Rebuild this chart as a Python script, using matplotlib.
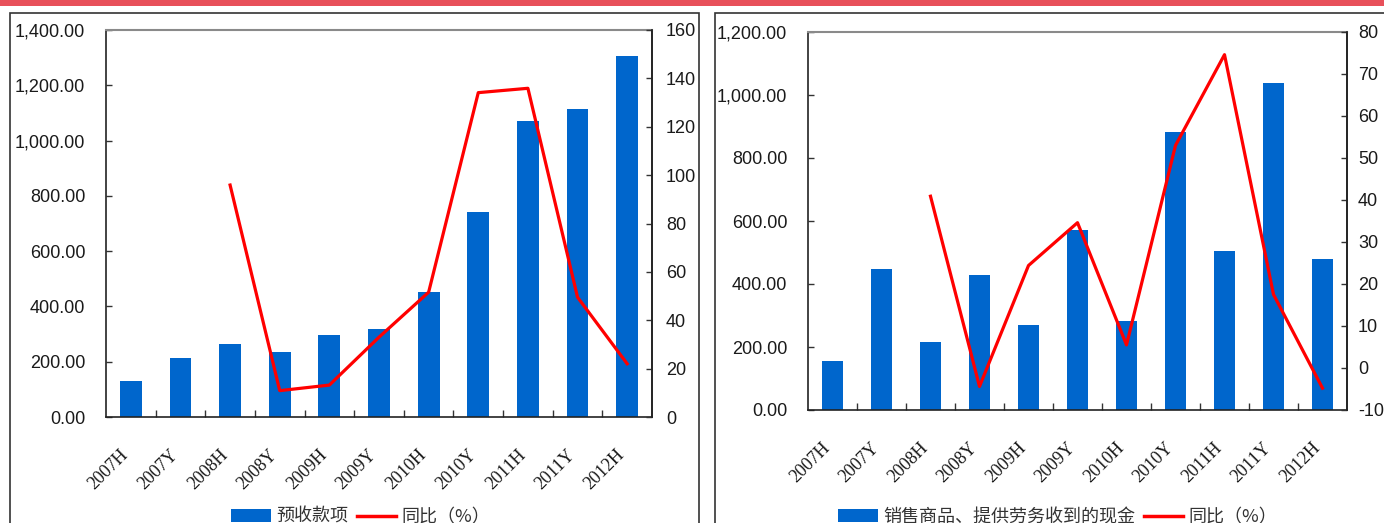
import numpy as np
import matplotlib
matplotlib.use("Agg")
import matplotlib.pyplot as plt
from matplotlib.patches import Rectangle, Patch
from matplotlib.lines import Line2D
from matplotlib.ticker import FuncFormatter, FixedLocator
import matplotlib.transforms as mtransforms

# ---- data ----
periods = ["2007H", "2007Y", "2008H", "2008Y", "2009H", "2009Y",
           "2010H", "2010Y", "2011H", "2011Y", "2012H"]

advance_receipts = [131, 214, 265, 236, 297, 319, 452, 741, 1071, 1113, 1306]
advance_yoy = [np.nan, np.nan, 95.9, 10.9, 13.2, 33.0, 51.6, 134.1, 135.9, 49.5, 22.0]

sales_cash = [154, 447, 217, 427, 269, 573, 284, 881, 506, 1038, 478]
sales_cash_yoy = [np.nan, np.nan, 40.9, -4.4, 24.4, 34.6, 5.5, 53.0, 74.6, 17.5, -4.8]

bar_label_left = "预收款项"
bar_label_right = "销售商品、提供劳务收到的现金"
line_label = "同比（%）"

# ---- style ----
W, H = 1384, 523
BLUE = "#0066CC"
RED = "#FF0000"
TXT = "#1a1a1a"
CJK = ["Noto Sans CJK SC", "DejaVu Sans"]
NUM = ["Liberation Sans", "DejaVu Sans"]
XLAB = ["Liberation Serif", "DejaVu Serif"]

fig = plt.figure(figsize=(W / 100, H / 100), dpi=100)
fig.patch.set_facecolor("white")

# red band across the top
fig.patches.append(Rectangle((0, 1 - 6 / H), 1, 6 / H, transform=fig.transFigure,
                             facecolor="#E8505A", edgecolor="none", zorder=0))
# panel frames
for x0, x1 in [(10, 699), (715, 1420)]:
    fig.patches.append(Rectangle((x0 / W, -0.05), (x1 - x0) / W, 1 - 13 / H + 0.05,
                                 transform=fig.transFigure, facecolor="none",
                                 edgecolor="#333333", linewidth=1.2, zorder=1))


def px_axes(x0, y0, x1, y1):
    return fig.add_axes([x0 / W, 1 - y1 / H, (x1 - x0) / W, (y1 - y0) / H])


def build(ax, bars, yoy, ylim, ystep, y2lim, y2step, bar_label, legend_cx, pad2):
    x = np.arange(len(periods))
    ax.bar(x, bars, width=0.44, color=BLUE, zorder=2)
    ax.set_xlim(-0.5, len(periods) - 0.5)
    ax.set_ylim(*ylim)
    ax.set_yticks(np.arange(ylim[0], ylim[1] + 1, ystep))
    ax.yaxis.set_major_formatter(FuncFormatter(lambda v, p: f"{v:,.2f}"))

    ax.set_xticks(x)
    ax.set_xticklabels(periods, rotation=45, ha="right", va="top",
                       rotation_mode="anchor", family=XLAB, fontsize=13, color=TXT)
    ax.xaxis.set_minor_locator(FixedLocator(np.arange(0.5, len(periods) - 1, 1)))
    ax.tick_params(axis="x", which="major", length=0, pad=21)
    ax.tick_params(axis="x", which="minor", direction="in", length=5,
                   color="#333333", width=1)
    off = mtransforms.ScaledTranslation(-11 / 100, 0, fig.dpi_scale_trans)
    for lab in ax.get_xticklabels():
        lab.set_transform(lab.get_transform() + off)

    ax.tick_params(axis="y", direction="in", length=4, width=1, color="#333333",
                   pad=15, labelsize=13, labelcolor=TXT)
    for lab in ax.get_yticklabels():
        lab.set_family(NUM)

    for side in ["left", "bottom", "right"]:
        ax.spines[side].set_color("#222222")
        ax.spines[side].set_linewidth(1.2)
    ax.spines["top"].set_color("#8a8a8a")
    ax.spines["top"].set_linewidth(1.5)

    ax2 = ax.twinx()
    ax2.plot(x, yoy, color=RED, linewidth=2.3, zorder=3)
    ax2.set_ylim(*y2lim)
    ax2.set_yticks(np.arange(y2lim[0], y2lim[1] + 1, y2step))
    ax2.yaxis.set_major_formatter(FuncFormatter(lambda v, p: f"{v:.0f}"))
    ax2.tick_params(axis="y", direction="in", length=4, width=1, color="#333333",
                    pad=pad2, labelsize=13, labelcolor=TXT)
    for lab in ax2.get_yticklabels():
        lab.set_family(NUM)
    for side in ["left", "top", "bottom"]:
        ax2.spines[side].set_visible(False)
    ax2.spines["right"].set_color("#222222")
    ax2.spines["right"].set_linewidth(1.2)

    handles = [Patch(facecolor=BLUE, edgecolor="none", label=bar_label),
               Line2D([], [], color=RED, linewidth=2.5, label=line_label)]
    fig.legend(handles=handles, loc="center", ncol=2, frameon=False,
               bbox_to_anchor=(legend_cx / W, 6 / H),
               prop={"family": CJK, "size": 13},
               handlelength=2.2, handleheight=0.7, handletextpad=0.3,
               columnspacing=0.45, labelcolor="#333333")


axL = px_axes(106, 30, 652, 417)
build(axL, advance_receipts, advance_yoy, (0, 1400), 200, (0, 160), 20,
      bar_label_left, 361, 10)

axR = px_axes(808, 32, 1347, 410)
build(axR, sales_cash, sales_cash_yoy, (0, 1200), 200, (-10, 80), 10,
      bar_label_right, 1058, 8)

fig.savefig("out.png", dpi=100)
